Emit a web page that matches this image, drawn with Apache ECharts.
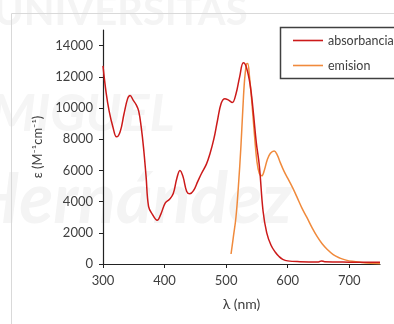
<!DOCTYPE html>
<html>
<head>
<meta charset="utf-8">
<script src="https://cdn.jsdelivr.net/npm/echarts@6/dist/echarts.min.js"></script>
<style>
  html, body { margin: 0; padding: 0; background: #fff; }
  #chart { width: 394px; height: 324px; }
</style>
</head>
<body>
<div id="chart"></div>
<script>
// Absorption spectrum: wavelength (nm) and molar absorptivity (M^-1 cm^-1)
const absWavelength = [300, 305, 310, 316, 322, 328, 334, 340, 344, 349, 354, 358, 362, 366, 370, 374, 380, 388, 394, 401,
  408, 414, 420, 425, 430, 436, 441, 447, 454, 460, 468, 474, 480, 486, 492, 498, 504, 510, 516, 522,
  528, 533, 539, 544, 549, 554, 560, 566, 573, 580, 586, 592, 600, 620, 650, 655, 660, 700, 750];
const absValue = [12700, 11000, 9800, 8800, 8150, 8500, 9600, 10600, 10800, 10500, 10200, 9800, 8800, 7400, 5600, 3700, 3200, 2800, 3200, 3900,
  4150, 4500, 5500, 6000, 5600, 4650, 4500, 4700, 5300, 5800, 6400, 7100, 8000, 9200, 10300, 10600, 10500, 10350, 10900, 12000,
  12900, 12600, 11500, 9800, 7800, 6300, 3400, 2000, 1200, 750, 480, 300, 200, 150, 130, 200, 150, 120, 110];

// Emission spectrum, scaled to the absorption maximum
const emWavelength = [508, 512, 516, 520, 524, 527, 530, 533, 535, 538, 542, 546, 550, 554, 558, 562, 567, 572, 578, 583,
  588, 594, 600, 608, 615, 623, 631, 640, 648, 656, 664, 674, 685, 695, 705, 720, 735, 750];
const emValue = [640, 1800, 3000, 5000, 7500, 9800, 11800, 12800, 12850, 12000, 10300, 8300, 6600, 5800, 5650, 6000, 6700, 7100, 7250, 7000,
  6500, 5950, 5500, 4900, 4300, 3600, 3000, 2300, 1750, 1300, 950, 600, 380, 250, 170, 100, 50, 20];

const xTicks = [300, 400, 500, 600, 700];
const yTicks = [0, 2000, 4000, 6000, 8000, 10000, 12000, 14000];

const pairs = (xs, ys) => xs.map((x, i) => [x, ys[i]]);

const FONT = 'Lato, "Open Sans", sans-serif';
const TXT = '#404040';

const chart = echarts.init(document.getElementById('chart'), null, { renderer: 'canvas' });
chart.setOption({
  backgroundColor: '#ffffff',
  animation: false,
  textStyle: { fontFamily: FONT },
  graphic: [
    // faint background lettering
    { type: 'text', left: -6, top: -8, z: -10, silent: true,
      style: { text: 'UNIVERSITAS', font: 'bold 40px ' + FONT, fill: '#f4f4f4' } },
    { type: 'text', left: -10, top: 88, z: -10, silent: true,
      style: { text: 'MIGUEL', font: 'bold italic 52px ' + FONT, fill: '#f5f5f5' } },
    { type: 'text', left: -30, top: 165, z: -10, silent: true,
      style: { text: 'Hernández', font: 'bold italic 70px ' + FONT, fill: '#f4f4f4' } },
    // outer frame
    { type: 'polyline', z: -5, silent: true,
      shape: { points: [[11.5, 330], [11.5, 13.5], [400, 13.5]] },
      style: { stroke: '#d9d9d9', lineWidth: 1, fill: null } },
    // legend frame
    { type: 'rect', z: 5, silent: true,
      shape: { x: 280.5, y: 27.5, width: 130, height: 51 },
      style: { stroke: '#404040', lineWidth: 1.5, fill: '#ffffff' } }
  ],
  legend: {
    orient: 'vertical',
    left: 288,
    top: 29,
    z: 10,
    icon: 'rect',
    itemWidth: 30,
    itemHeight: 1.6,
    itemGap: 12,
    textStyle: { fontFamily: FONT, fontSize: 12.5, color: TXT },
    data: ['absorbancia', 'emision']
  },
  grid: { left: 103, right: 14, top: 30, bottom: 60, containLabel: false },
  xAxis: {
    type: 'value',
    min: 300, max: 750, interval: 100,
    name: 'λ (nm)',
    nameLocation: 'middle',
    nameGap: 33,
    nameTextStyle: { fontFamily: FONT, fontSize: 14, color: TXT },
    axisLine: { show: true, onZero: false, lineStyle: { color: '#222', width: 1.2 } },
    axisTick: { show: true, length: 4, customValues: xTicks, lineStyle: { color: '#222' } },
    axisLabel: { customValues: xTicks, fontSize: 13, color: TXT, margin: 10, fontFamily: FONT },
    splitLine: { show: false }
  },
  yAxis: {
    type: 'value',
    min: 0, max: 15000, interval: 2000,
    name: 'ε (M⁻¹cm⁻¹)',
    nameLocation: 'middle',
    nameGap: 47,
    nameTextStyle: { fontFamily: FONT, fontSize: 13, color: TXT },
    axisLine: { show: true, lineStyle: { color: '#222', width: 1.2 } },
    axisTick: { show: true, length: 4, customValues: yTicks, lineStyle: { color: '#222' } },
    axisLabel: { customValues: yTicks, formatter: v => String(v), fontSize: 13, color: TXT, margin: 10, fontFamily: FONT },
    splitLine: { show: false }
  },
  series: [
    {
      name: 'absorbancia', type: 'line', data: pairs(absWavelength, absValue),
      smooth: 0.4, symbol: 'none', z: 3,
      lineStyle: { color: '#cc1a1a', width: 1.5 }, itemStyle: { color: '#cc1a1a' }
    },
    {
      name: 'emision', type: 'line', data: pairs(emWavelength, emValue),
      smooth: 0.4, symbol: 'none', z: 2,
      lineStyle: { color: '#f08a3c', width: 1.5 }, itemStyle: { color: '#f08a3c' }
    }
  ]
});
</script>
</body>
</html>
